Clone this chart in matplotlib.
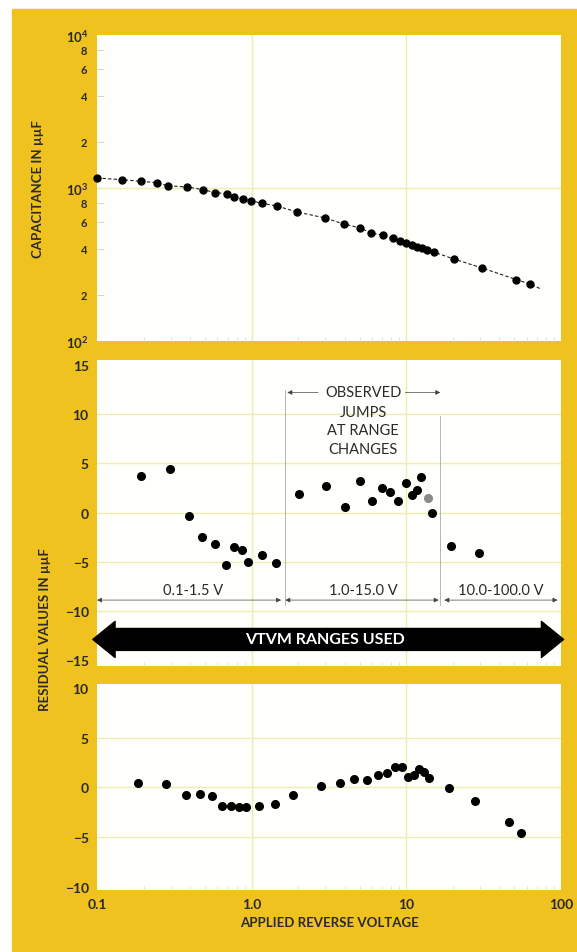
import matplotlib
matplotlib.use('Agg')
import matplotlib.pyplot as plt
from matplotlib.patches import Rectangle, FancyArrowPatch
from matplotlib.ticker import FixedLocator, FixedFormatter, NullFormatter, LogLocator

plt.rcParams['font.family'] = ['Lato', 'DejaVu Sans']
plt.rcParams['font.weight'] = 'bold'
plt.rcParams['mathtext.fontset'] = 'custom'
plt.rcParams['mathtext.rm'] = 'Lato:bold'
plt.rcParams['mathtext.it'] = 'Lato:italic'
plt.rcParams['mathtext.bf'] = 'Lato:bold'

# ---------------- data ----------------
cap_v = [0.1, 0.1445, 0.1927, 0.2443, 0.287, 0.384, 0.4875, 0.583, 0.691, 0.774,
         0.877, 0.988, 1.164, 1.456, 1.962, 2.99, 3.93, 5.04, 5.93, 7.02, 8.20,
         9.15, 10.0, 10.9, 11.7, 12.6, 13.6, 15.2, 20.2, 30.9, 51.5, 62.8]
cap_c = [1163, 1133, 1106, 1083, 1035, 1015, 975, 932, 918, 873, 847, 826, 794,
         763, 697, 637, 582, 548, 506, 493, 469, 448, 435, 424, 413, 403, 395,
         380, 344, 300, 252, 236]
fit_end_v = 74.0
fit_end_c = 219.0

mid_v = [0.192, 0.297, 0.394, 0.480, 0.583, 0.681, 0.770, 0.864, 0.953, 1.164, 1.426,
         2.03, 3.02, 3.99, 5.04, 6.0, 6.96, 7.88, 8.84, 9.95, 10.9, 11.7, 12.5, 14.7,
         19.5, 29.4]
mid_r = [3.67, 4.44, -0.33, -2.45, -3.16, -5.32, -3.46, -3.77, -5.02, -4.34, -5.12,
         1.89, 2.73, 0.61, 3.23, 1.21, 2.49, 2.12, 1.21, 3.03, 1.82, 2.25, 3.61, 0.0,
         -3.43, -4.11]
mid_faint_v = [13.9]
mid_faint_r = [1.44]

bot_v = [0.1834, 0.281, 0.375, 0.464, 0.555, 0.647, 0.740, 0.830, 0.925, 1.123, 1.405,
         1.856, 2.79, 3.70, 4.56, 5.53, 6.59, 7.54, 8.45, 9.42, 10.26, 11.2, 12.1, 13.0,
         14.0, 18.9, 27.7, 46.2, 55.2]
bot_r = [0.43, 0.33, -0.74, -0.61, -0.88, -1.82, -1.85, -1.99, -1.99, -1.89, -1.65,
         -0.78, 0.13, 0.43, 0.81, 0.74, 1.24, 1.48, 2.09, 2.02, 1.08, 1.24, 1.82, 1.59,
         0.98, -0.03, -1.31, -3.5, -4.55]

x_ticks = [0.1, 1.0, 10.0, 100.0]
x_ticklabels = ['0.1', '1.0', '10', '100']
cap_major = [100, 1000, 10000]
cap_major_labels = ['$10^2$', '$10^3$', '$10^4$']
cap_minor = [200, 400, 600, 800, 2000, 4000, 6000, 8000]
cap_minor_labels = ['2', '4', '6', '8', '2', '4', '6', '8']
mid_ticks = [-15, -10, -5, 0, 5, 10, 15]
bot_ticks = [-10, -5, 0, 5, 10]

range_labels = ['0.1-1.5 V', '1.0-15.0 V', '10.0-100.0 V']
range_start = [0.1, 1.65, 17.6]
range_end = [1.55, 16.2, 95.0]
range_label_x = [0.42, 5.27, 40.5]
jump_lines = ['OBSERVED', 'JUMPS', 'AT RANGE', 'CHANGES']

# ---------------- style ----------------
YEL = '#EFC21F'
PANEL = '#FFFFFB'
GRID = '#EEEEB0'
TXT = '#2a2a2a'

fig = plt.figure(figsize=(5.77, 9.53), dpi=100)
fig.patch.set_facecolor('white')
fig.patches.append(Rectangle((12 / 577, 0), 1 - 12 / 577, 1 - 10 / 953,
                             transform=fig.transFigure, color=YEL, zorder=-10))

L = 97 / 577
W = 464 / 577
ax1 = fig.add_axes([L, 1 - 342 / 953, W, 306 / 953])
ax2 = fig.add_axes([L, 1 - 667 / 953, W, 306 / 953])
ax3 = fig.add_axes([L, 1 - 891 / 953, W, 206 / 953])

for ax in (ax1, ax2, ax3):
    ax.set_facecolor(PANEL)
    for s in ax.spines.values():
        s.set_visible(False)
    ax.set_xscale('log')
    ax.set_xlim(0.1, 100)
    ax.axvline(1.0, color=GRID, lw=1.0, zorder=0)
    ax.axvline(10.0, color=GRID, lw=1.0, zorder=0)
    ax.set_xticks(x_ticks)
    ax.xaxis.set_minor_locator(LogLocator(base=10, subs=range(2, 10)))
    ax.xaxis.set_minor_formatter(NullFormatter())
    ax.tick_params(axis='x', which='major', length=0)
    ax.tick_params(axis='x', which='minor', direction='in', length=3,
                   color='#dddddd', width=0.6)
    ax.tick_params(axis='y', which='major', length=0, pad=6, labelsize=10,
                   labelcolor=TXT)

# ---- top panel ----
ax1.set_yscale('log')
ax1.set_ylim(100, 10000)
ax1.yaxis.set_major_locator(FixedLocator(cap_major))
ax1.yaxis.set_major_formatter(FixedFormatter(cap_major_labels))
ax1.yaxis.set_minor_locator(FixedLocator(cap_minor))
ax1.yaxis.set_minor_formatter(FixedFormatter(cap_minor_labels))
ax1.tick_params(axis='y', which='minor', direction='in', length=5, color='#d0d0d0',
                width=0.6, pad=7, labelsize=8, labelcolor=TXT)
ax1.tick_params(axis='y', which='major', labelsize=9.5, pad=6)
ax1.axhline(1000, color=GRID, lw=1.0, zorder=0)
ax1.xaxis.set_major_formatter(NullFormatter())
ax1.plot(cap_v + [fit_end_v], cap_c + [fit_end_c], ls=(0, (3, 2)), color='#222222',
         lw=0.8, zorder=2)
ax1.plot(cap_v, cap_c, 'o', color='black', ms=5, zorder=3, clip_on=False)
ax1.set_ylabel('CAPACITANCE IN µµF', fontsize=9.5, fontweight='bold', color=TXT,
               labelpad=16)

# ---- middle panel ----
ax2.set_ylim(-15.6, 15.5)
ax2.set_yticks(mid_ticks)
ax2.xaxis.set_major_formatter(NullFormatter())
for yv in (-10, -5, 0, 5, 10):
    ax2.axhline(yv, color=GRID, lw=1.0, zorder=0)
ax2.plot(mid_v, mid_r, 'o', color='black', ms=5.5, zorder=3)
ax2.plot(mid_faint_v, mid_faint_r, 'o', color='#8a8a8a', ms=5.5, zorder=3)

arr_y = -8.9
for s, e, lab, lx in zip(range_start, range_end, range_labels, range_label_x):
    ax2.annotate('', xy=(e, arr_y), xytext=(s, arr_y),
                 arrowprops=dict(arrowstyle='<|-|>', color='#444444', lw=0.5,
                                 shrinkA=0, shrinkB=0, mutation_scale=7))
    ax2.text(lx, arr_y + 1.0, lab, ha='center', va='center', fontsize=10.5,
             color=TXT, fontweight='normal')

ax2.plot([1.65, 1.65], [12.5, -9.4], color='#aaaaaa', lw=0.6, zorder=1)
ax2.plot([16.4, 16.4], [9.8, -9.4], color='#aaaaaa', lw=0.6, zorder=1)
ax2.annotate('', xy=(1.70, 12.2), xytext=(2.69, 12.2),
             arrowprops=dict(arrowstyle='-|>', color='#444444', lw=0.5,
                             shrinkA=0, shrinkB=0, mutation_scale=7))
ax2.annotate('', xy=(16.6, 12.2), xytext=(9.85, 12.2),
             arrowprops=dict(arrowstyle='-|>', color='#444444', lw=0.5,
                             shrinkA=0, shrinkB=0, mutation_scale=7))
for line, yy in zip(jump_lines, [12.2, 10.2, 8.4, 6.5]):
    ax2.text(5.27, yy, line, ha='center', va='center', fontsize=10.5, color=TXT,
             fontweight='normal')

big_y = -12.9
big_style = 'simple,head_length=16,head_width=26,tail_width=15.8'
for end in (0.094, 104.0):
    ax2.add_patch(FancyArrowPatch((3.1, big_y), (end, big_y), arrowstyle=big_style,
                                  mutation_scale=1, color='black', shrinkA=0,
                                  shrinkB=0, clip_on=False, zorder=4))
ax2.text(3.0, big_y, 'VTVM RANGES USED', ha='center', va='center', fontsize=11.5,
         fontweight='bold', color='white', zorder=5)

# ---- bottom panel ----
ax3.set_ylim(-10.3, 10.4)
ax3.set_yticks(bot_ticks)
for yv in (-5, 0, 5):
    ax3.axhline(yv, color=GRID, lw=1.0, zorder=0)
ax3.plot(bot_v, bot_r, 'o', color='black', ms=5.5, zorder=3)
ax3.set_xticklabels(x_ticklabels)
ax3.tick_params(axis='x', which='major', labelsize=10, labelcolor=TXT, pad=6)
ax3.set_xlabel('APPLIED REVERSE VOLTAGE', fontsize=9.5, fontweight='bold',
               color=TXT, labelpad=4)

fig.text(45 / 577, 1 - 630 / 953, 'RESIDUAL VALUES IN µµF', rotation=90,
         ha='center', va='center', fontsize=9.5, fontweight='bold', color=TXT)

fig.savefig('out.png', dpi=100, facecolor=fig.get_facecolor())
